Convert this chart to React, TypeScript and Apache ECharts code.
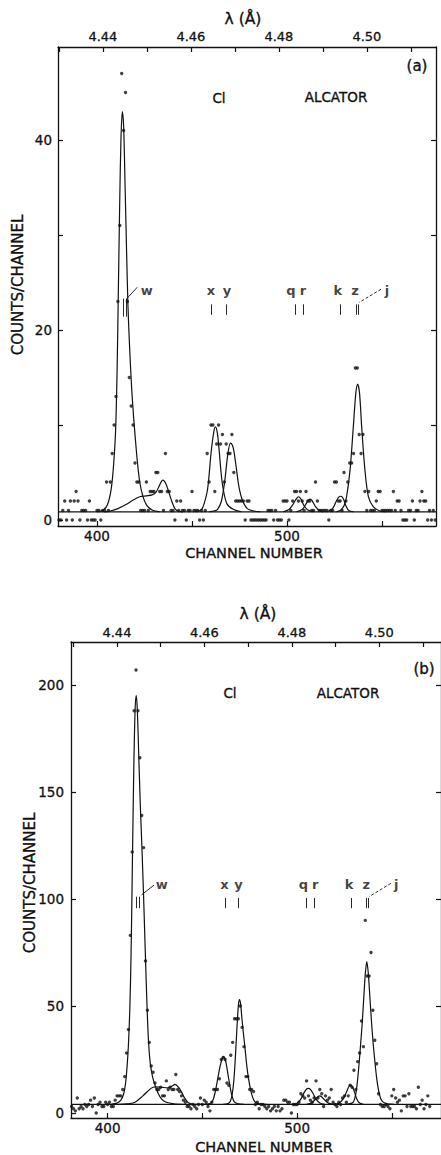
import React, { useEffect, useRef } from "react";
import * as echarts from "echarts";

// ---------- DATA ----------
// Panel (a): counts per channel, starting at channel 380
const chStartA = 380;
const countsA = [
  0, 0, 1, 2, 0, 1, 2, 0, 2, 3,
  2, 0, 1, 1, 1, 0, 2, 0, 0, 0,
  1, 1, 0, 1, 1, 4, 1, 4, 7, 10,
  13, 23, 31, 47, 41, 45, 23, 15, 12, 10,
  6, 4, 4, 1, 1, 1, 4, 1, 3, 3,
  3, 5, 5, 3, 3, 1, 7, 3, 3, 1,
  1, 0, 2, 1, 2, 1, 1, 0, 1, 1,
  3, 1, 1, 1, 0, 1, 0, 1, 7, 4,
  10, 10, 3, 8, 10, 8, 9, 4, 8, 7,
  7, 9, 5, 2, 2, 2, 2, 2, 0, 2,
  2, 0, 0, 0, 0, 0, 0, 0, 0, 0,
  1, 1, 1, 0, 1, 0, 0, 0, 2, 2,
  2, 0, 1, 2, 3, 3, 2, 3, 2, 1,
  3, 2, 2, 1, 1, 4, 2, 1, 1, 1,
  1, 1, 0, 1, 1, 4, 4, 2, 2, 1,
  5, 2, 4, 6, 6, 7, 16, 16, 9, 7,
  9, 3, 1, 3, 1, 1, 1, 2, 3, 3,
  1, 1, 1, 1, 1, 1, 3, 1, 2, 2,
  1, 0, 0, 0, 1, 1, 2, 0, 1, 1,
  2, 3, 2, 2, 0, 1, 0, 1, 0,
];

// Panel (b): counts per channel, starting at channel 381
const chStartB = 381;
const countsB = [
  3, 2, 1, 7, 2, 3, 2, 4, 3, 4,
  6, 3, 7, 0, 4, 5, 3, 3, 5, 4,
  5, 3, 3, 6, 8, 8, 8, 11, 17, 28,
  39, 83, 122, 188, 207, 188, 166, 139, 124, 71,
  48, 33, 22, 19, 14, 11, 11, 12, 8, 8,
  15, 11, 12, 11, 11, 18, 11, 10, 8, 6,
  5, 3, 3, 2, 4, 3, 2, 4, 7, 4,
  6, 5, 3, 1, 5, 11, 11, 11, 16, 25,
  26, 25, 14, 13, 27, 33, 44, 44, 44, 50,
  40, 31, 17, 17, 11, 11, 10, 4, 5, 2,
  4, 4, 3, 2, 3, 1, 2, 3, 1, 3,
  1, 2, 6, 6, 5, 5, 0, 4, 4, 4,
  5, 9, 8, 7, 15, 8, 6, 5, 7, 15,
  7, 11, 9, 3, 8, 6, 7, 11, 5, 4,
  3, 5, 4, 7, 8, 5, 8, 13, 12, 20,
  11, 24, 28, 43, 31, 90, 64, 64, 75, 48,
  34, 23, 9, 4, 3, 3, 4, 3, 2, 8,
  11, 7, 5, 6, 1, 8, 8, 3, 9, 3,
  3, 3, 2, 12, 4, 6, 2, 4, 8, 3,
];

// Fitted background levels
const baselineA = 0.85;
const baselineB = 4;

// Fitted line profiles, panel (a) [channel, counts]
const fitWA = [[400,0.87],[403,1.0],[405.5,1.6],[407.5,3.3],[408.8,6],[409.8,9.5],[410.6,16],[411.3,25],[412,34],[412.6,40],[413.3,43],[414,41.5],[414.8,35],[415.6,28],[416.3,22.5],[417.2,18],[418.2,14],[419.2,11],[420.2,8.5],[421.3,6],[422.5,4],[424,2.6],[426,1.6],[429,1.05],[433,0.87]];
const fitSatA = [[404,0.86],[407,0.95],[411,1.2],[415,1.6],[419,2.1],[422.5,2.45],[426,2.55],[429,2.65],[431,2.9],[433,3.7],[434.6,4.2],[436.3,3.8],[438,2.8],[439.5,1.9],[441,1.2],[442.5,0.95],[445,0.86]];
const fitXA = [[452,0.87],[455,1.1],[456.5,1.8],[458,3],[458.8,4.3],[460,7],[461.4,9.2],[462.3,9.8],[463.3,9.2],[464.3,7.3],[465.3,5],[466.3,3.4],[468.4,1.7],[471.9,1.1],[476,0.87]];
const fitYA = [[459,0.87],[461.5,0.95],[463.4,1.1],[465.5,2],[467.3,4.2],[468.7,6.7],[470.2,8.1],[471.2,7.9],[472.1,7.2],[473.5,5.2],[474.7,3.5],[476.5,2.1],[479.1,1.2],[482.6,0.95],[486,0.87]];
const fitQA = [[498,0.87],[501,1.1],[503,1.6],[504.8,2.2],[506,2.45],[507.2,2.25],[509,1.5],[511,1.05],[514,0.87]];
const fitRA = [[505,0.87],[508,1.1],[510,1.7],[511.3,2.1],[512.2,2.2],[513.2,2.05],[515,1.4],[517,1.0],[519,0.87]];
const fitKA = [[521,0.87],[524,1.2],[526,2.0],[527.2,2.4],[528.3,2.5],[529.5,2.3],[531,1.5],[532.5,1.0],[535,0.87]];
const fitZA = [[526,0.87],[528,1.0],[530,1.5],[531.4,2.5],[533.2,5.3],[534.9,9.8],[536.2,13.3],[537.2,14.3],[538.2,13.3],[539.3,9.8],[541,5.3],[542.8,2.5],[545.4,1.4],[548.9,0.95],[552,0.87]];

// Fitted line profiles, panel (b)
const fitWB = [[402,4.1],[405,4.6],[407,6],[408.5,9],[409.5,14],[410.3,22],[411,32],[411.7,48],[412.4,75],[413.1,118],[413.8,160],[414.5,188],[415.1,195],[415.7,188],[416.5,165],[417.3,143],[418.2,122],[419.1,98],[420,72],[420.8,50],[421.5,35],[422.4,24],[423.7,17],[425,13],[426.5,9.5],[428.5,6.5],[431,5],[435,4.3],[440,4.05]];
const fitSatB = [[406,4.05],[410,4.25],[414.2,4.9],[418.6,8],[422.9,11.5],[425.1,12.2],[428.5,12],[431.8,11.8],[433.8,12.5],[435.6,13.4],[437.5,12],[438.9,10],[440.5,7.2],[442.6,4.8],[445.8,4.05],[450,4]];
const fitXB = [[451,4.02],[454,4.4],[455.5,5.8],[456.6,9],[457.5,13],[458.4,17.5],[459.3,21.5],[460.3,25],[461.2,26.3],[462.1,25],[463,21],[463.9,16],[464.8,11.4],[465.8,7.5],[466.9,5.2],[469,4.3],[472,4.02]];
const fitYB = [[461,4.02],[463.5,4.4],[464.8,5.5],[465.8,9],[466.6,15],[467.3,24],[467.9,34],[468.6,45],[469.1,51],[469.6,53],[470.2,51],[470.8,45],[471.7,37],[472.6,29.6],[473.4,22.5],[474.3,16.5],[475.2,12],[476.1,8.6],[477.2,6],[478.2,4.9],[481,4.1],[484,4.01]];
const fitQB = [[497,4.01],[500,4.6],[502,6.5],[503.7,9.5],[505,11.2],[506,11.5],[507,11],[508.5,9],[510,6.5],[512,4.7],[514.5,4.05]];
const fitRB = [[505,4.01],[507.5,4.6],[509.5,6.2],[511,7.6],[511.9,8],[512.9,7.6],[514.5,6.2],[516.5,4.6],[519,4.02]];
const fitKB = [[519,4.01],[522,4.5],[524.5,6.8],[526.4,10.5],[527.4,12.5],[528.2,13],[529.1,12.3],[530.2,10],[531.4,6.8],[532.8,4.8],[535,4.05]];
const fitZB = [[525,4.02],[527.5,4.3],[529.5,4.9],[530.5,7],[531.3,10.7],[532.1,17],[532.9,25],[533.6,33],[534.3,41],[535.2,54],[536,65],[536.8,70.7],[537.6,65],[538.5,53],[539.4,41],[540.2,32],[541,24.5],[541.9,17],[542.9,11],[544,7],[545.3,5.2],[547.5,4.3],[551,4.02]];

// Line identifications
const lineNames = ["w", "x", "y", "q", "r", "k", "z", "j"];
const labelChA = [426.2, 460, 468.4, 502.1, 508.4, 526.8, 535.8, 552.6];
const labelChB = [428.6, 461.7, 469.1, 503.3, 509.6, 527.5, 536.5, 552.3];
const labelYA = 24.2;
const labelYB = 107;
const markerChA = [413.8, 415.6, 460, 467.9, 504.2, 508.4, 527.9, 536.3, 537.4];
const markerChB = [415.3, 416.5, 462.1, 469.1, 504.9, 509.1, 528.4, 536.6, 537.7];
const markerYA = [21.6, 22.7];
const markerYB = [95.7, 100.5];
const leaderWA = [[421.2, 24.5], [415.6, 23.3]];
const leaderJA = [[549.5, 24.3], [538, 22.9]];
const leaderWB = [[424.5, 106.5], [417.9, 101.9]];
const leaderJB = [[549.5, 107.3], [538, 101.1]];

// Axis ticks / labels
const chTicks = [400, 450, 500, 550];
const chLabels = [400, 500];
const lamTicks = [4.43, 4.44, 4.45, 4.46, 4.47, 4.48, 4.49, 4.5, 4.51];
const lamLabels = [4.44, 4.46, 4.48, 4.5];
const yTicksA = [0, 10, 20, 30, 40];
const yLabelsA = [0, 20, 40];
const yTicksB = [0, 50, 100, 150, 200];
const yLabelsB = [0, 50, 100, 150, 200];

// ---------- STYLE / LAYOUT ----------
const INK = "#111111";
const FONT = "DejaVu Sans";
const THICK = { textBorderColor: INK, textBorderWidth: 0.3 };

const panels = [
  {
    grid: { left: 58, top: 47, width: 378, height: 479 },
    x: [379.47, 578.42],
    y: [-0.63, 49.79],
    lam: [4.4298, 4.5157],
    yTicks: yTicksA,
    yLabels: yLabelsA,
    chStart: chStartA,
    counts: countsA,
    base: baselineA,
    fits: [fitWA, fitSatA, fitXA, fitYA, fitQA, fitRA, fitKA, fitZA],
    labelCh: labelChA,
    labelY: labelYA,
    markerCh: markerChA,
    markerY: markerYA,
    wMarkerY: [21.4, 23.3],
    leaderW: leaderWA,
    leaderJ: leaderJA,
    leftLabelMargin: 6,
    bottomLabelMargin: 3,
    topLabelMargin: 4,
  },
  {
    grid: { left: 71, top: 642, width: 371, height: 476 },
    x: [380.68, 575.95],
    y: [-2.34, 220.1],
    lam: [4.4295, 4.5141],
    yTicks: yTicksB,
    yLabels: yLabelsB,
    chStart: chStartB,
    counts: countsB,
    base: baselineB,
    fits: [fitWB, fitSatB, fitXB, fitYB, fitQB, fitRB, fitKB, fitZB],
    labelCh: labelChB,
    labelY: labelYB,
    markerCh: markerChB,
    markerY: markerYB,
    wMarkerY: [95.7, 101.1],
    leaderW: leaderWB,
    leaderJ: leaderJB,
    leftLabelMargin: 7,
    bottomLabelMargin: 3,
    topLabelMargin: 3,
  },
];

const texts = [
  { t: "(a)", x: 417, y: 66, s: 15, r: 0 },
  { t: "Cl", x: 219, y: 98, s: 13.5, r: 0 },
  { t: "ALCATOR", x: 336, y: 97, s: 13.5, r: 0 },
  { t: "λ (Å)", x: 243, y: 19, s: 15.5, r: 0 },
  { t: "CHANNEL NUMBER", x: 254, y: 553, s: 14.5, r: 0 },
  { t: "COUNTS/CHANNEL", x: 18, y: 285, s: 15, r: Math.PI / 2 },
  { t: "(b)", x: 424, y: 669, s: 15, r: 0 },
  { t: "Cl", x: 230, y: 693, s: 13.5, r: 0 },
  { t: "ALCATOR", x: 348, y: 693, s: 13.5, r: 0 },
  { t: "λ (Å)", x: 258, y: 614, s: 15.5, r: 0 },
  { t: "CHANNEL NUMBER", x: 264, y: 1147, s: 14.5, r: 0 },
  { t: "COUNTS/CHANNEL", x: 30, y: 883, s: 15, r: Math.PI / 2 },
];

function buildOption() {
  const grids: any[] = [];
  const xAxes: any[] = [];
  const yAxes: any[] = [];
  const series: any[] = [];
  const axisLine = { show: true, onZero: false, lineStyle: { color: INK, width: 1.3 } };
  const tickStyle = { color: INK, width: 1.2 };
  const labelStyle = { color: INK, fontFamily: FONT, fontSize: 13, ...THICK };

  panels.forEach((p, gi) => {
    grids.push({ ...p.grid, containLabel: false });
    const xi = xAxes.length;
    xAxes.push({
      gridIndex: gi, type: "value", position: "bottom", min: p.x[0], max: p.x[1],
      axisLine, splitLine: { show: false },
      axisTick: { show: true, inside: true, length: 5, customValues: chTicks, lineStyle: tickStyle },
      axisLabel: { show: true, customValues: chLabels, margin: p.bottomLabelMargin, ...labelStyle, fontSize: 13.5 },
    });
    xAxes.push({
      gridIndex: gi, type: "value", position: "top", min: p.lam[0], max: p.lam[1],
      axisLine, splitLine: { show: false },
      axisTick: { show: true, inside: true, length: 5, customValues: lamTicks, lineStyle: tickStyle },
      axisLabel: { show: true, customValues: lamLabels, margin: p.topLabelMargin, formatter: (v: number) => v.toFixed(2), ...labelStyle },
    });
    const yi = yAxes.length;
    yAxes.push({
      gridIndex: gi, type: "value", position: "left", min: p.y[0], max: p.y[1],
      axisLine, splitLine: { show: false },
      axisTick: { show: true, inside: true, length: 5, customValues: p.yTicks, lineStyle: tickStyle },
      axisLabel: { show: true, customValues: p.yLabels, margin: p.leftLabelMargin, ...labelStyle, fontSize: 13.5 },
    });
    yAxes.push({
      gridIndex: gi, type: "value", position: "right", min: p.y[0], max: p.y[1],
      axisLine, splitLine: { show: false },
      axisTick: { show: true, inside: true, length: 5, customValues: p.yTicks.filter((v) => v > 0), lineStyle: tickStyle },
      axisLabel: { show: false },
    });

    const common = { xAxisIndex: xi, yAxisIndex: yi, silent: true };

    // data points
    series.push({
      ...common, type: "scatter", symbol: "circle", symbolSize: 3.4,
      itemStyle: { color: INK },
      data: p.counts.map((v, i) => [p.chStart + i, v]),
    });
    // background level
    series.push({
      ...common, type: "line", symbol: "none",
      lineStyle: { color: INK, width: 1.2 },
      data: [[p.x[0], p.base], [p.x[1], p.base]],
    });
    // fitted components
    p.fits.forEach((f) => {
      series.push({
        ...common, type: "line", symbol: "none", smooth: 0.3,
        lineStyle: { color: INK, width: 1.2 },
        data: f,
      });
    });
    // line position markers
    const markers = p.markerCh.map((c, i) => ({
      coords: i < 2 ? [[c, p.wMarkerY[0]], [c, p.wMarkerY[1]]] : [[c, p.markerY[0]], [c, p.markerY[1]]],
    }));
    series.push({
      ...common, type: "lines", coordinateSystem: "cartesian2d",
      lineStyle: { color: INK, width: 0.9, opacity: 1 },
      data: markers,
    });
    series.push({
      ...common, type: "lines", coordinateSystem: "cartesian2d",
      lineStyle: { color: INK, width: 0.9, opacity: 1 },
      data: [{ coords: p.leaderW }],
    });
    series.push({
      ...common, type: "lines", coordinateSystem: "cartesian2d",
      lineStyle: { color: INK, width: 0.9, opacity: 1, type: [3, 2] },
      data: [{ coords: p.leaderJ }],
    });
    // line names
    series.push({
      ...common, type: "scatter", symbol: "circle", symbolSize: 0.01,
      itemStyle: { color: "transparent" },
      label: {
        show: true, position: "inside", formatter: "{b}",
        color: INK, fontFamily: FONT, fontSize: 13, fontWeight: "bold",
      },
      data: lineNames.map((n, i) => ({ name: n, value: [p.labelCh[i], p.labelY] })),
    });
  });

  return {
    animation: false,
    backgroundColor: "#ffffff",
    grid: grids,
    xAxis: xAxes,
    yAxis: yAxes,
    series,
    graphic: texts.map((t) => ({
      type: "text", x: t.x, y: t.y, rotation: t.r, silent: true,
      style: {
        text: t.t, fill: INK, font: `${t.s}px "${FONT}"`,
        stroke: INK, lineWidth: 0.35,
        textAlign: "center", textVerticalAlign: "middle",
      },
    })),
  };
}

export default function App() {
  const ref = useRef<HTMLDivElement>(null);
  useEffect(() => {
    const chart = echarts.init(ref.current as HTMLDivElement, null, { renderer: "svg" });
    chart.setOption(buildOption() as any);
    return () => chart.dispose();
  }, []);
  return (
    <div
      ref={ref}
      style={{ position: "absolute", left: 0, top: 0, width: 441, height: 1155, background: "#fff" }}
    />
  );
}
